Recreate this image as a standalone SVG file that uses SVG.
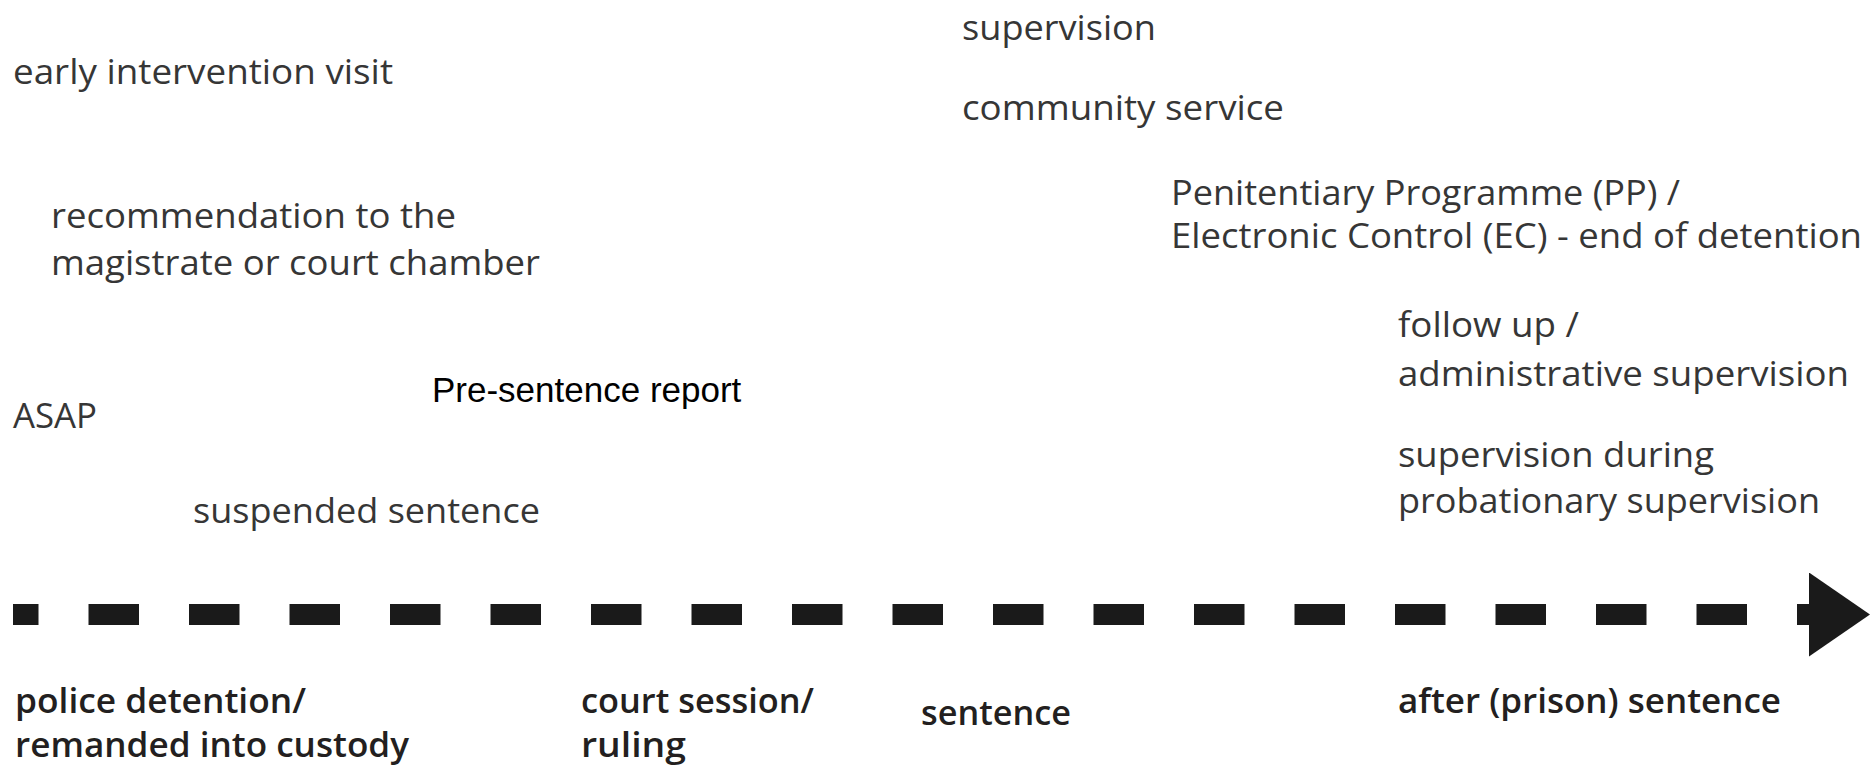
<svg xmlns="http://www.w3.org/2000/svg" width="1870" height="767" viewBox="0 0 1870 767">
  <style>
    .lbl { font-family: "Open Sans", "Noto Sans", "Liberation Sans", sans-serif; font-size: 35px; font-weight: 400; fill: #363636; }
    .stage { font-family: "Open Sans", "Noto Sans", "Liberation Sans", sans-serif; font-size: 35px; font-weight: 600; fill: #231f20; }
    .arial { font-family: "Liberation Sans", Arial, sans-serif; font-size: 35px; fill: #000000; }
    .timeline { fill: none; stroke: #1a1a1a; stroke-width: 21; stroke-dasharray: 50.5 50; stroke-dashoffset: 25; }
  </style>
  <defs>
    <marker id="arrowhead" markerUnits="userSpaceOnUse" viewBox="0 0 61 84" markerWidth="61" markerHeight="84" refX="0" refY="42" orient="auto">
      <path d="M0,0 L61,42 L0,84 Z" fill="#1a1a1a"/>
    </marker>
  </defs>
  <rect x="0" y="0" width="1870" height="767" fill="#ffffff"/>

  <g id="connectors">
    <path class="timeline" d="M13,614.5 H1809" marker-end="url(#arrowhead)"/>
  </g>

  <g id="supervision">
    <text class="lbl" x="962" y="40" textLength="194" lengthAdjust="spacingAndGlyphs">supervision</text>
  </g>
  <g id="early-intervention-visit">
    <text class="lbl" x="13" y="84" textLength="380" lengthAdjust="spacingAndGlyphs">early intervention visit</text>
  </g>
  <g id="community-service">
    <text class="lbl" x="962" y="120" textLength="322" lengthAdjust="spacingAndGlyphs">community service</text>
  </g>
  <g id="pp-ec">
    <text class="lbl" x="1171" y="205" textLength="509" lengthAdjust="spacingAndGlyphs">Penitentiary Programme (PP) /</text>
    <text class="lbl" x="1171" y="248" textLength="691" lengthAdjust="spacingAndGlyphs">Electronic Control (EC) - end of detention</text>
  </g>
  <g id="recommendation">
    <text class="lbl" x="51" y="228" textLength="405" lengthAdjust="spacingAndGlyphs">recommendation to the</text>
    <text class="lbl" x="51" y="275" textLength="489" lengthAdjust="spacingAndGlyphs">magistrate or court chamber</text>
  </g>
  <g id="follow-up">
    <text class="lbl" x="1398" y="337" textLength="181" lengthAdjust="spacingAndGlyphs">follow up /</text>
    <text class="lbl" x="1398" y="386" textLength="451" lengthAdjust="spacingAndGlyphs">administrative supervision</text>
  </g>
  <g id="supervision-during">
    <text class="lbl" x="1398" y="467" textLength="316" lengthAdjust="spacingAndGlyphs">supervision during</text>
    <text class="lbl" x="1398" y="513" textLength="422" lengthAdjust="spacingAndGlyphs">probationary supervision</text>
  </g>
  <g id="asap">
    <text class="lbl" x="13" y="428" textLength="84" lengthAdjust="spacingAndGlyphs">ASAP</text>
  </g>
  <g id="pre-sentence-report">
    <text class="arial" x="432" y="402">Pre-sentence report</text>
  </g>
  <g id="suspended-sentence">
    <text class="lbl" x="193" y="523" textLength="347" lengthAdjust="spacingAndGlyphs">suspended sentence</text>
  </g>

  <g id="police-detention">
    <text class="stage" x="15" y="713" textLength="291" lengthAdjust="spacingAndGlyphs">police detention/</text>
    <text class="stage" x="15" y="757" textLength="394" lengthAdjust="spacingAndGlyphs">remanded into custody</text>
  </g>
  <g id="court-session">
    <text class="stage" x="581" y="713" textLength="233" lengthAdjust="spacingAndGlyphs">court session/</text>
    <text class="stage" x="581" y="757" textLength="105" lengthAdjust="spacingAndGlyphs">ruling</text>
  </g>
  <g id="sentence">
    <text class="stage" x="921" y="725" textLength="150" lengthAdjust="spacingAndGlyphs">sentence</text>
  </g>
  <g id="after-prison-sentence">
    <text class="stage" x="1398" y="713" textLength="383" lengthAdjust="spacingAndGlyphs">after (prison) sentence</text>
  </g>
</svg>
